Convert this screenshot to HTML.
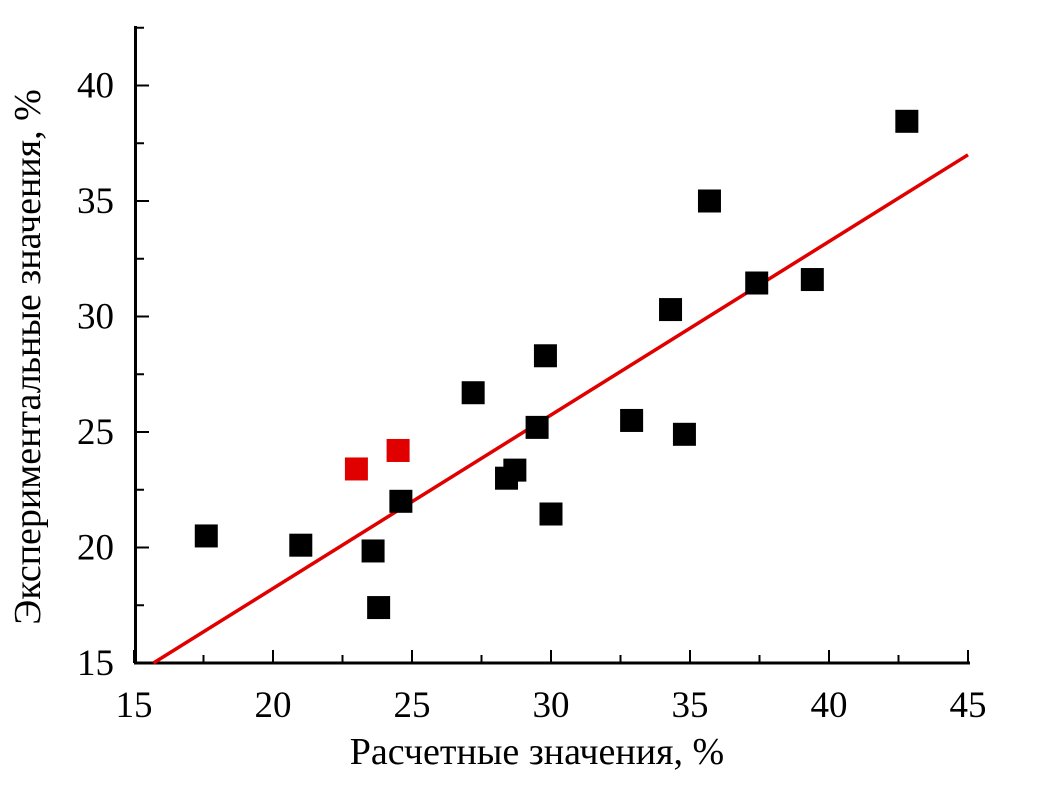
<!DOCTYPE html>
<html><head><meta charset="utf-8"><style>
body{margin:0;background:#fff;}
svg text{font-family:"Liberation Serif",serif;fill:#000;}
</style></head><body>
<svg id="chart" width="1059" height="791"></svg>
<script>
const xVals=[17.6,21.0,23.6,23.8,24.6,27.2,28.4,28.7,29.5,29.8,30.0,32.9,34.8,34.3,35.7,37.4,39.4,42.8];
const yVals=[20.5,20.1,19.85,17.4,22.0,26.7,23.0,23.35,25.2,28.3,21.45,25.5,24.9,30.3,35.0,31.45,31.6,38.45];
const redX=[23.0,24.5];
const redY=[23.4,24.2];
const fitLine=[[15.7,15],[45,37]];
const xTicks=[15,20,25,30,35,40,45];
const yTicks=[15,20,25,30,35,40];
const NS="http://www.w3.org/2000/svg";
const svg=document.getElementById('chart');
const sx=v=>134+(v-15)*27.8;
const sy=v=>663-(v-15)*23.1;
function mk(t,a){const e=document.createElementNS(NS,t);for(const k in a)e.setAttribute(k,a[k]);svg.appendChild(e);return e;}
let e;
e=mk('line',{x1:135.5,y1:26,x2:135.5,y2:664,stroke:'#000','stroke-width':3});


e=mk('line',{x1:134,y1:663,x2:970,y2:663,stroke:'#000','stroke-width':3});


for(let v=15;v<=45;v+=2.5){const maj=v%5===0;e=mk('line',{x1:sx(v),y1:663,x2:sx(v),y2:663-(maj?13:8),stroke:'#000','stroke-width':2});

}
for(let v=15;v<=42.5;v+=2.5){const maj=v%5===0;e=mk('line',{x1:135,y1:sy(v),x2:135+(maj?14:9),y2:sy(v),stroke:'#000','stroke-width':2});

}
xTicks.forEach(v=>{e=mk('text',{x:sx(v),y:717,'font-size':37,'text-anchor':'middle'});e.textContent=v;

});
yTicks.forEach(v=>{e=mk('text',{x:114,y:sy(v)+12,'font-size':37,'text-anchor':'end'});e.textContent=v;

});
e=mk('text',{x:537,y:764,'font-size':38,'text-anchor':'middle'});e.textContent='Расчетные значения, %';


e=mk('text',{x:0,y:0,'font-size':38,'text-anchor':'middle',transform:'translate(40,357) rotate(-90)'});e.textContent='Экспериментальные значения, %';


e=mk('line',{x1:sx(fitLine[0][0]),y1:sy(fitLine[0][1]),x2:sx(fitLine[1][0]),y2:sy(fitLine[1][1]),stroke:'#e00000','stroke-width':3.5});


const s=23;
xVals.forEach((x,i)=>{e=mk('rect',{x:sx(x)-s/2,y:sy(yVals[i])-s/2,width:s,height:s,fill:'#000'});

});
redX.forEach((x,i)=>{e=mk('rect',{x:sx(x)-s/2,y:sy(redY[i])-s/2,width:s,height:s,fill:'#e00000'});

});
</script>
</body></html>
